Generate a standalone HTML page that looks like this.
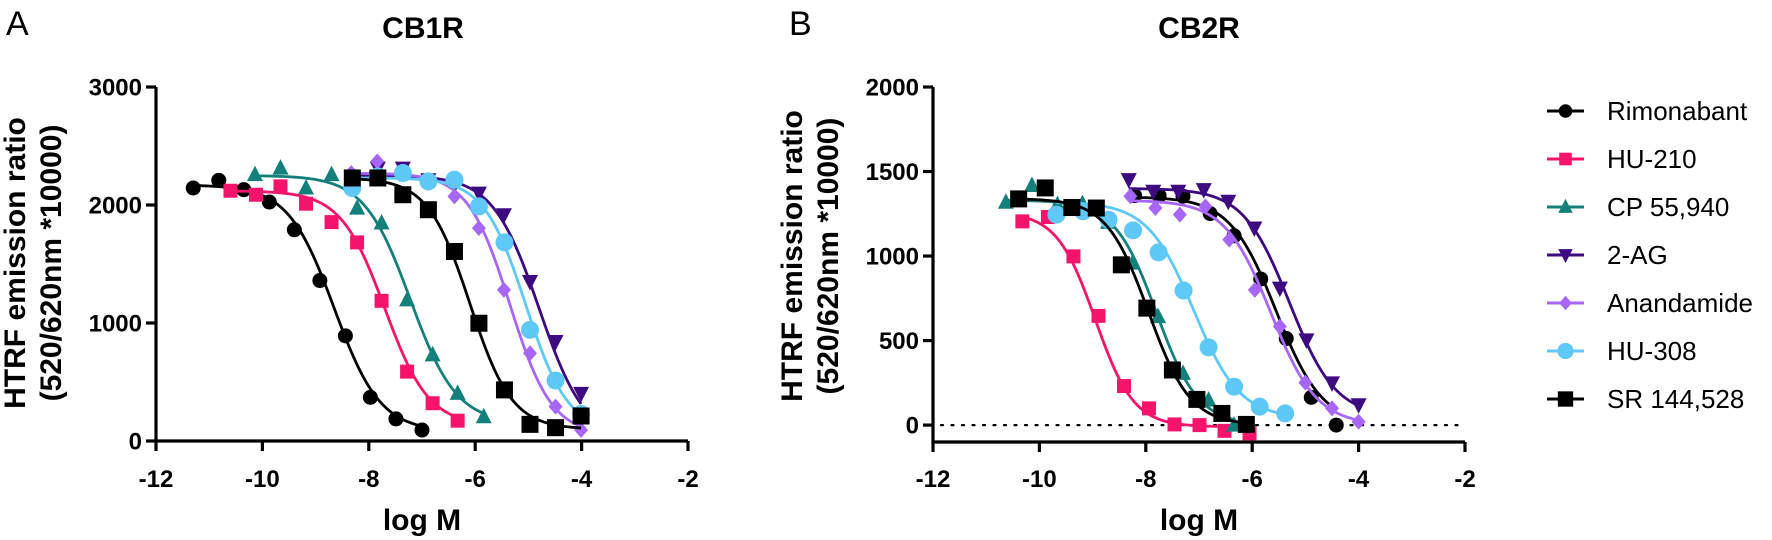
<!DOCTYPE html>
<html><head><meta charset="utf-8">
<style>
html,body{margin:0;padding:0;background:#fff;}
svg{display:block;font-family:"Liberation Sans",Arial,sans-serif;}
</style></head>
<body>
<svg id="chart" width="1772" height="540" viewBox="0 0 1772 540" xmlns="http://www.w3.org/2000/svg">
<text x="6" y="35" font-size="34">A</text>
<text x="789" y="35" font-size="34">B</text>
<text x="423" y="38" font-size="30" font-weight="bold" text-anchor="middle">CB1R</text>
<text x="1199" y="38" font-size="30" font-weight="bold" text-anchor="middle">CB2R</text>
<g id="plotA"></g>
<g id="plotB"></g>
<g id="legend"></g>
</svg>
<script>
const seriesNames = ["Rimonabant","HU-210","CP 55,940","2-AG","Anandamide","HU-308","SR 144,528"];
const xTicks = [-12,-10,-8,-6,-4,-2];
const yTicksA = [0,1000,2000,3000];
const yTicksB = [0,500,1000,1500,2000];

// Panel A (CB1R) data: log M and response
const aRimX = [-11.3,-10.82,-10.35,-9.87,-9.4,-8.92,-8.44,-7.97,-7.49,-7.0];
const aRimY = [2144,2209,2130,2025,1790,1360,891,370,187,93];
const aHU210X = [-10.6,-10.12,-9.66,-9.18,-8.7,-8.22,-7.76,-7.28,-6.8,-6.33];
const aHU210Y = [2121,2087,2158,2011,1855,1683,1188,588,320,172];
const aCPX = [-10.14,-9.66,-9.18,-8.7,-8.22,-7.76,-7.28,-6.8,-6.33,-5.84];
const aCPY = [2257,2313,2144,2257,1974,1847,1196,730,404,206];
const a2AGX = [-8.31,-7.83,-7.36,-6.88,-6.39,-5.93,-5.46,-4.97,-4.49,-4.01];
const a2AGY = [2186,2313,2313,2214,2172,2101,1917,1352,843,404];
const aAEAX = [-8.33,-7.84,-7.36,-6.88,-6.39,-5.93,-5.46,-4.97,-4.49,-4.01];
const aAEAY = [2271,2370,2271,2186,2073,1804,1281,744,291,93];
const aHU308X = [-8.31,-7.83,-7.36,-6.88,-6.39,-5.93,-5.45,-4.97,-4.49,-4.01];
const aHU308Y = [2144,2243,2271,2200,2214,1988,1683,942,512,229];
const aSRX = [-8.31,-7.83,-7.36,-6.88,-6.39,-5.93,-5.45,-4.97,-4.49,-4.01];
const aSRY = [2229,2229,2087,1960,1606,998,433,141,113,212];
// fit params [top, bottom, logIC50, hill]
const aFits = [[2170,80,-8.65,1.0],[2120,130,-7.7,1.05],[2250,150,-7.22,1.0],[2250,0,-4.8,1.0],[2270,50,-5.35,1.1],[2230,80,-5.05,1.1],[2230,100,-6.1,1.1]];

// Panel B (CB2R) data
const bRimX = [-8.21,-7.75,-7.3,-6.79,-6.34,-5.84,-5.36,-4.89,-4.42];
const bRimY = [1357,1357,1354,1251,1120,864,512,164,0];
const bHU210X = [-10.32,-9.84,-9.36,-8.89,-8.41,-7.94,-7.46,-6.99,-6.52,-6.05];
const bHU210Y = [1205,1231,998,646,231,99,4,0,-34,-49];
const bCPX = [-10.63,-10.14,-9.66,-9.19,-8.71,-8.25,-7.77,-7.3,-6.82,-6.34];
const bCPY = [1318,1417,1304,1310,1199,958,642,306,148,0];
const b2AGX = [-8.32,-7.86,-7.39,-6.91,-6.45,-5.96,-5.48,-4.98,-4.5,-4.0];
const b2AGY = [1452,1383,1383,1393,1324,1166,810,504,250,120];
const bAEAX = [-8.29,-7.82,-7.36,-6.88,-6.43,-5.95,-5.48,-5.0,-4.5,-4.0];
const bAEAY = [1354,1284,1245,1294,1097,800,583,251,100,20];
const bHU308X = [-9.68,-9.18,-8.7,-8.24,-7.76,-7.29,-6.82,-6.34,-5.86,-5.38];
const bHU308Y = [1245,1265,1215,1152,1022,796,460,227,109,69];
const bSRX = [-10.39,-9.89,-9.39,-8.93,-8.46,-7.98,-7.5,-7.04,-6.57,-6.11];
const bSRY = [1338,1403,1287,1284,948,692,326,152,69,4];
const bFits = [[1350,0,-5.55,1.0],[1260,-10,-8.95,1.2],[1330,0,-7.8,1.1],[1400,50,-5.3,1.0],[1330,0,-5.65,1.0],[1320,40,-7.1,1.0],[1340,0,-7.95,1.1]];

const colors = ["#000000","#f5146b","#14807c","#3d0a80","#a866f7","#5ec9f7","#000000"];
const shapes = ["circle","square","triangle","tridown","diamond","bigcircle","bigsquare"];

const NS = "http://www.w3.org/2000/svg";
function mk(tag, attrs, parent){
  const e = document.createElementNS(NS, tag);
  for (const k in attrs) e.setAttribute(k, attrs[k]);
  parent.appendChild(e);
  return e;
}
function marker(g, shape, cx, cy, col, sc){
  sc = sc || 1;
  let e;
  if (shape==="circle") e = mk("circle",{cx:cx,cy:cy,r:7.5*sc,fill:col},g);
  else if (shape==="bigcircle") e = mk("circle",{cx:cx,cy:cy,r:9*sc,fill:col},g);
  else if (shape==="square") e = mk("rect",{x:cx-7*sc,y:cy-7*sc,width:14*sc,height:14*sc,fill:col},g);
  else if (shape==="bigsquare") e = mk("rect",{x:cx-8.5*sc,y:cy-8.5*sc,width:17*sc,height:17*sc,fill:col},g);
  else if (shape==="triangle") e = mk("polygon",{points:`${cx},${cy-9*sc} ${cx-8*sc},${cy+6.5*sc} ${cx+8*sc},${cy+6.5*sc}`,fill:col},g);
  else if (shape==="tridown") e = mk("polygon",{points:`${cx},${cy+9*sc} ${cx-8*sc},${cy-6.5*sc} ${cx+8*sc},${cy-6.5*sc}`,fill:col},g);
  else e = mk("polygon",{points:`${cx},${cy-8*sc} ${cx+7*sc},${cy} ${cx},${cy+8*sc} ${cx-7*sc},${cy}`,fill:col},g);
  return e;
}

function drawPanel(gid, cfg, xsArr, ysArr, fits, key){
  const g = document.getElementById(gid);
  const X = v => cfg.x0 + (v - (-12)) / 10 * (cfg.x1 - cfg.x0);
  const Y = v => cfg.yb - (v - cfg.ymin) / (cfg.ymax - cfg.ymin) * (cfg.yb - cfg.yt);
  if (cfg.zeroLine){
    const zl = mk("line",{x1:cfg.x0+8,x2:cfg.x1,y1:Y(0),y2:Y(0),stroke:"#000","stroke-width":2.2,"stroke-dasharray":"2 8.5","stroke-linecap":"round"},g);
    
    
  }
  const ax = mk("path",{d:`M${cfg.x0},${cfg.yt} V${cfg.yb} H${cfg.x1}`,fill:"none",stroke:"#000","stroke-width":3.2},g);
  
  
  cfg.yTicks.forEach(t=>{
    mk("line",{x1:cfg.x0-10,x2:cfg.x0,y1:Y(t),y2:Y(t),stroke:"#000","stroke-width":3.2},g);
    const tl = mk("text",{x:cfg.x0-14,y:Y(t)+8.5,"font-size":24,"font-weight":"bold","text-anchor":"end"},g);
    tl.textContent = t;
    
    
  });
  xTicks.forEach(t=>{
    mk("line",{x1:X(t),x2:X(t),y1:cfg.yb,y2:cfg.yb+10,stroke:"#000","stroke-width":3.2},g);
    const tl = mk("text",{x:X(t),y:487,"font-size":24,"font-weight":"bold","text-anchor":"middle"},g);
    tl.textContent = t;
    
    
  });
  const xl = mk("text",{x:(cfg.x0+cfg.x1)/2,y:530,"font-size":30,"font-weight":"bold","text-anchor":"middle"},g);
  xl.textContent = "log M";
  
  
  const cy = cfg.labelY;
  const yl1 = mk("text",{x:cfg.x0-131,y:cy,"font-size":30,"font-weight":"bold","text-anchor":"middle",transform:`rotate(-90 ${cfg.x0-131} ${cy})`},g);
  yl1.textContent = "HTRF emission ratio";
  
  
  const yl2 = mk("text",{x:cfg.x0-95,y:cy,"font-size":30,"font-weight":"bold","text-anchor":"middle",transform:`rotate(-90 ${cfg.x0-95} ${cy})`},g);
  yl2.textContent = "(520/620nm *10000)";
  
  

  for (let s=0; s<xsArr.length; s++){
    const xs = xsArr[s], ys = ysArr[s], f = fits[s];
    const sg = mk("g",{},g);
    
    
    const lo = Math.min(...xs), hi = Math.max(...xs);
    let d = "";
    for (let i=0;i<=120;i++){
      const lx = lo + (hi-lo)*i/120;
      const v = f[1] + (f[0]-f[1])/(1+Math.pow(10,(lx-f[2])*f[3]));
      d += (i?"L":"M") + X(lx).toFixed(2) + "," + Y(v).toFixed(2);
    }
    const c = mk("path",{d:d,fill:"none",stroke:colors[s],"stroke-width":2.8},sg);
    
    
    for (let i=0;i<xs.length;i++){
      const m = marker(sg, shapes[s], X(xs[i]), Y(ys[i]), colors[s]);
      
      
    }
  }
}

drawPanel("plotA",{x0:156,x1:688,yb:441,yt:87,ymin:0,ymax:3000,yTicks:yTicksA,zeroLine:false,labelY:263},
  [aRimX,aHU210X,aCPX,a2AGX,aAEAX,aHU308X,aSRX],[aRimY,aHU210Y,aCPY,a2AGY,aAEAY,aHU308Y,aSRY],aFits,"cb1r");
drawPanel("plotB",{x0:933,x1:1465,yb:442,yt:87,ymin:-100,ymax:2000,yTicks:yTicksB,zeroLine:true,labelY:256},
  [bRimX,bHU210X,bCPX,b2AGX,bAEAX,bHU308X,bSRX],[bRimY,bHU210Y,bCPY,b2AGY,bAEAY,bHU308Y,bSRY],bFits,"cb2r");

const lg = document.getElementById("legend");
seriesNames.forEach((n,i)=>{
  const y = 111 + i*48;
  const eg = mk("g",{},lg);
  
  
  mk("line",{x1:1547,x2:1584,y1:y,y2:y,stroke:colors[i],"stroke-width":3},eg);
  marker(eg, shapes[i], 1565.5, y, colors[i], 0.9);
  const t = mk("text",{x:1607,y:y+9,"font-size":26},eg);
  t.textContent = n;
});
</script>
</body></html>
